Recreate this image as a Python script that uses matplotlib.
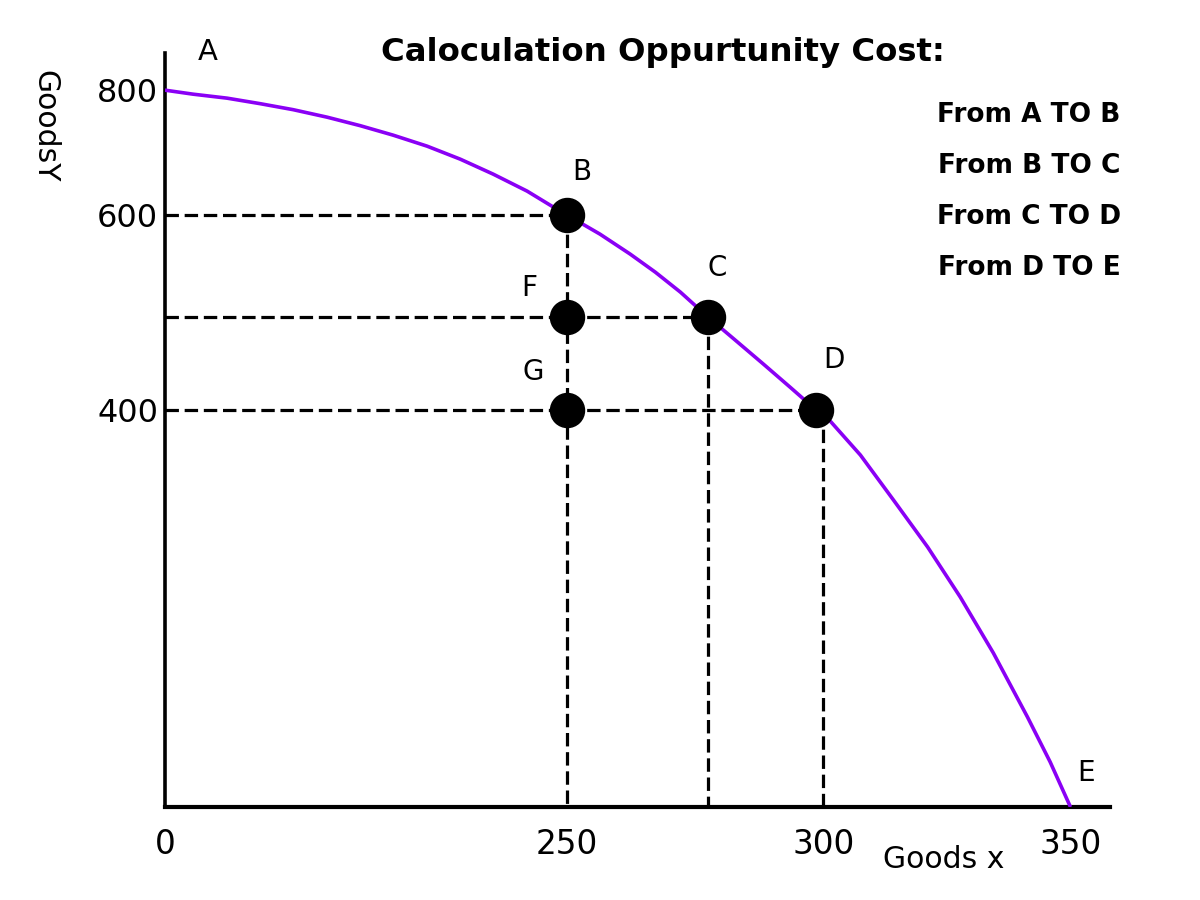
import numpy as np
import matplotlib
matplotlib.use("Agg")
import matplotlib.pyplot as plt

# production possibility curve
curve_x = [0, 17.4, 38.6, 59.1, 79.6, 100.7, 121.3, 141.8, 162.9, 183.5, 204, 225.1, 239.4,
           250, 256.4, 262.3, 267.2, 272.1, 277.5, 282.8, 288.3, 293.6, 298.6,
           301.4, 307.5, 314.2, 321.1, 327.7, 334.4, 341.3, 345.9, 350]
curve_y = [800, 793.6, 787.2, 778.4, 768.8, 756.8, 743.2, 728, 710.4, 689.6, 665.6, 638.4, 616,
           600, 580.5, 560, 541.5, 521, 495.4, 471.8, 447.2, 423.1, 400,
           388.9, 354.7, 309.3, 262, 211.6, 155.2, 90.7, 45.3, 0]

point_names = ["B", "F", "G", "C", "D"]
point_x = [250, 250, 250, 277.5, 298.6]
point_y = [600, 495.4, 400, 495.4, 400]

x_ticks = [0, 250, 300, 350]
y_ticks = [400, 600, 800]

title = "Caloculation Oppurtunity Cost:"
steps = ["From A TO B", "From B TO C", "From C TO D", "From D TO E"]

# the axes in the picture are not to scale: piecewise linear mapping
X_ANCHOR = [0, 250, 300, 350, 400]
X_PIX = [0, 402, 658, 905, 1152]
Y_ANCHOR = [0, 400, 600, 800, 900]
Y_PIX = [0, 397, 592, 717, 780]


def x_fwd(v):
    return np.interp(v, X_ANCHOR, X_PIX)


def x_inv(v):
    return np.interp(v, X_PIX, X_ANCHOR)


def y_fwd(v):
    return np.interp(v, Y_ANCHOR, Y_PIX)


def y_inv(v):
    return np.interp(v, Y_PIX, Y_ANCHOR)


def px(v):
    # pixels -> points at dpi 100
    return v * 0.72


fig = plt.figure(figsize=(12, 9), dpi=100)
ax = fig.add_axes([165 / 1200, 93 / 900, 945 / 1200, 754 / 900])
ax.set_xscale("function", functions=(x_fwd, x_inv))
ax.set_yscale("function", functions=(y_fwd, y_inv))
ax.set_xlim(0, 358)
ax.set_ylim(0, 859)

dash = dict(color="black", lw=2.3, linestyle=(0, (4.2, 1.8)), zorder=2)

# horizontal guides
ax.plot([0, point_x[0]], [point_y[0], point_y[0]], **dash)
ax.plot([0, point_x[3]], [point_y[3], point_y[3]], **dash)
ax.plot([0, point_x[4]], [point_y[4], point_y[4]], **dash)
# vertical guides
ax.plot([point_x[0], point_x[0]], [point_y[0], 0], **dash)
ax.plot([point_x[3], point_x[3]], [point_y[3], 0], **dash)
ax.plot([x_ticks[2], x_ticks[2]], [point_y[4], -10], clip_on=False, **dash)

ax.plot(curve_x, curve_y, color="#8a00f5", lw=2.6, zorder=3,
        solid_capstyle="butt", solid_joinstyle="round")

ax.plot(point_x, point_y, "o", color="black", markersize=24.5, zorder=4)

offsets = {"B": (15, 43), "F": (-38, 29), "G": (-34, 38), "C": (9, 49), "D": (18, 50)}
for name, x, y in zip(point_names, point_x, point_y):
    dx, dy = offsets[name]
    ax.annotate(name, (x, y), xytext=(px(dx), px(dy)), textcoords="offset points",
                ha="center", va="center", fontsize=20)

ax.annotate("A", (curve_x[0], curve_y[0]), xytext=(px(43), px(38)),
            textcoords="offset points", ha="center", va="center", fontsize=21,
            annotation_clip=False)
ax.annotate("E", (curve_x[-1], curve_y[-1]), xytext=(px(16), px(34)),
            textcoords="offset points", ha="center", va="center", fontsize=20)

for side in ["top", "right"]:
    ax.spines[side].set_visible(False)
ax.spines["left"].set_linewidth(2.6)
ax.spines["bottom"].set_linewidth(3)

ax.set_xticks(x_ticks)
ax.set_xticklabels([str(t) for t in x_ticks], fontsize=23.5)
ax.set_yticks(y_ticks)
ax.set_yticklabels([str(t) for t in y_ticks], fontsize=23)
ax.xaxis.set_minor_locator(matplotlib.ticker.NullLocator())
ax.yaxis.set_minor_locator(matplotlib.ticker.NullLocator())
ax.tick_params(axis="x", length=0, pad=15)
ax.tick_params(axis="y", length=0, pad=5)

fig.text(45 / 1200, 1 - 126 / 900, "GoodsY", rotation=-90, ha="center", va="center", fontsize=21.5)
fig.text(944 / 1200, 1 - 860 / 900, "Goods x", ha="center", va="center", fontsize=21.5)

fig.text(663 / 1200, 1 - 52 / 900, title, ha="center", va="center",
         fontsize=23.3, fontweight="bold")
for i, s in enumerate(steps):
    fig.text(1029 / 1200, 1 - (115 + 51 * i) / 900, s, ha="center", va="center",
             fontsize=19, fontweight="bold")

fig.savefig("out.png", dpi=100, facecolor="white")
